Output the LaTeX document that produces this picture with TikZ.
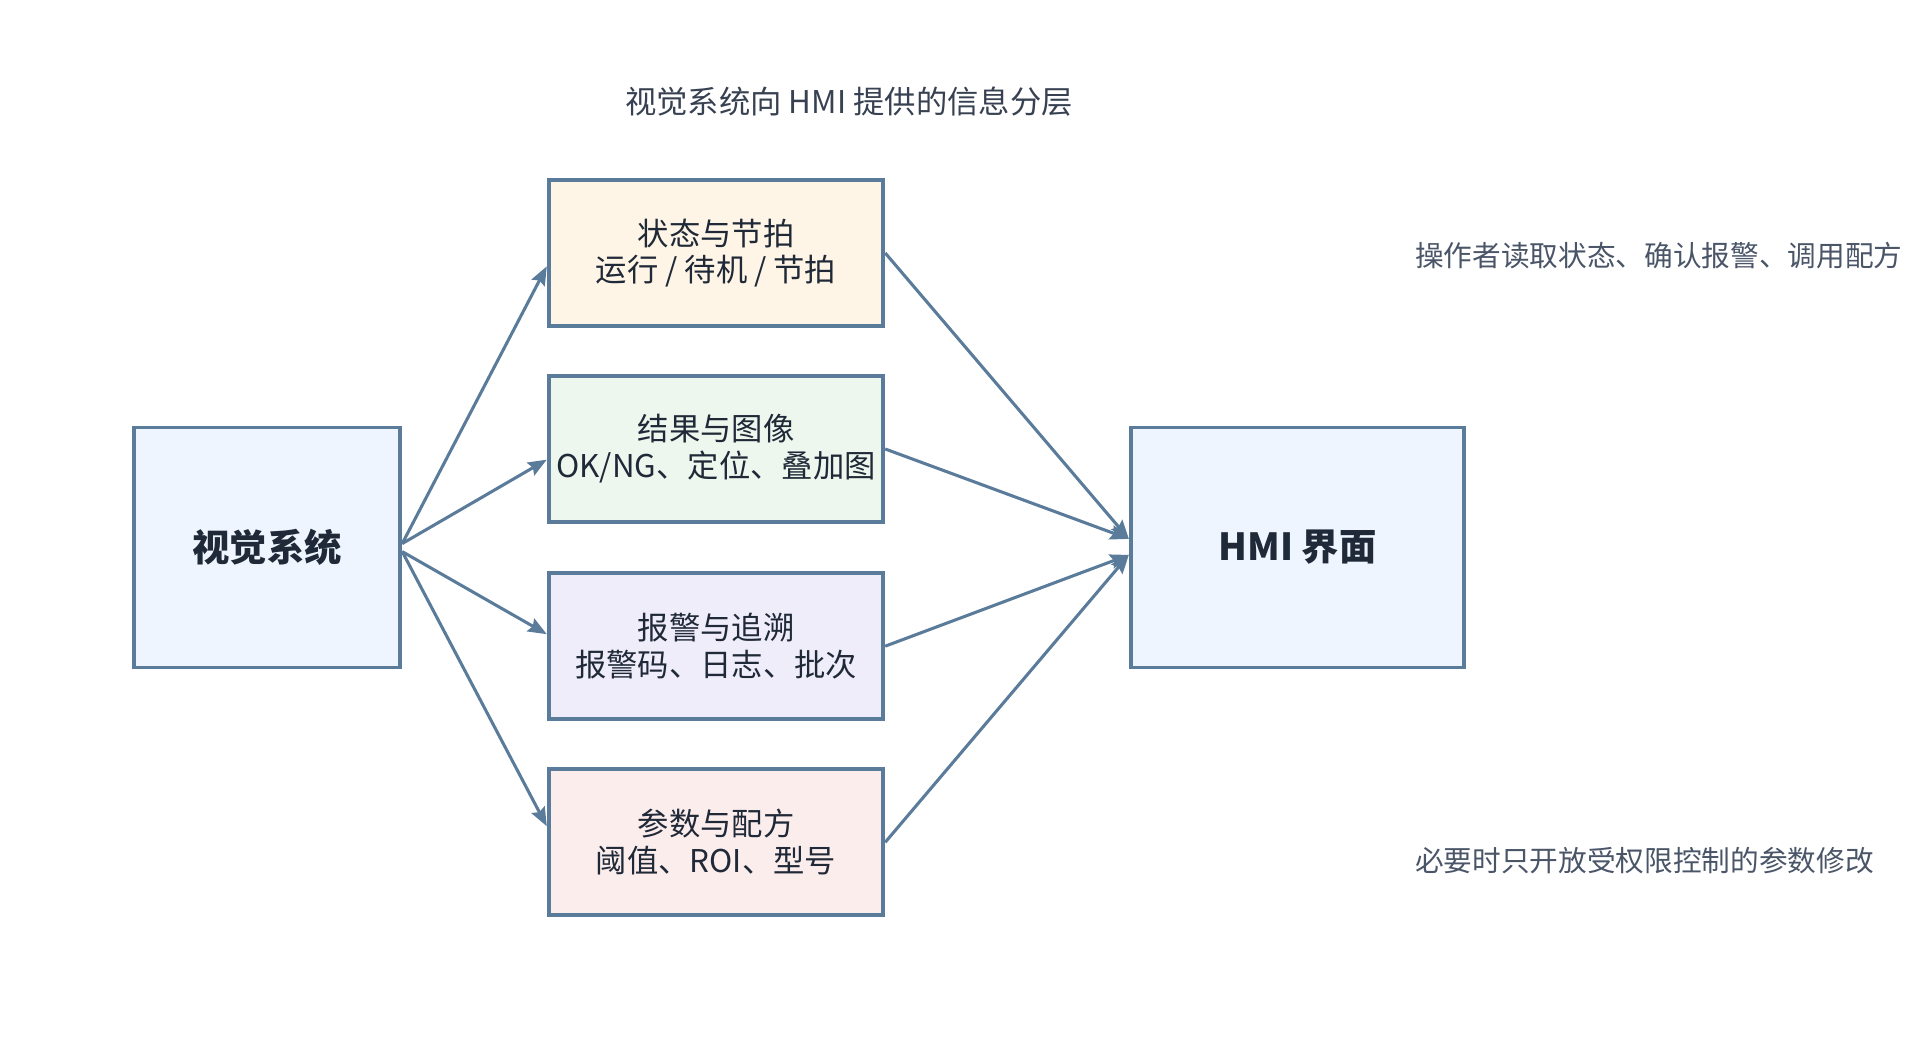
\documentclass[tikz,border=0pt]{standalone}
\usepackage{fontspec}
\setmainfont{Noto Sans CJK SC}
\usetikzlibrary{arrows.meta}
\definecolor{edgeblue}{RGB}{91,123,154}
\definecolor{textdark}{RGB}{31,41,55}
\definecolor{titlegray}{RGB}{55,65,81}
\definecolor{notegray}{RGB}{74,85,104}
\definecolor{sysblue}{RGB}{238,245,255}
\definecolor{stateorange}{RGB}{255,245,230}
\definecolor{resultgreen}{RGB}{237,247,238}
\definecolor{alarmviolet}{RGB}{240,237,251}
\definecolor{paramrose}{RGB}{252,237,237}
\tikzset{layerbox/.style={draw=edgeblue, line width=2.8pt, rectangle, inner sep=0pt, align=center, text=textdark,
           font=\fontsize{23.5}{27.6}\selectfont, minimum width=251pt, minimum height=109.4pt},
         endbox/.style={layerbox, fill=sysblue, minimum height=180pt, font=\fontsize{28}{33}\selectfont\bfseries},
         flow/.style={draw=edgeblue, line width=2.3pt, -{Stealth[length=14pt,width=11pt,inset=2pt]}},
         sidenote/.style={text=notegray, anchor=west, inner sep=0pt, font=\fontsize{21.5}{26}\selectfont}}

\begin{document}
\begin{tikzpicture}[x=0.75pt, y=0.75pt]
\useasboundingbox (0,0) rectangle (1921,1062);
\node [text=titlegray, font=\fontsize{23.5}{28}\selectfont] (title) at (849, 960) {视觉系统向 HMI 提供的信息分层};
\node [endbox, minimum width=200pt] (vis) at (267, 514.4) {视觉系统};
\node [layerbox, fill=stateorange] (state) at (716, 809) {状态与节拍\\运行 / 待机 / 节拍};
\node [layerbox, fill=resultgreen] (result) at (716, 613) {结果与图像\\OK/NG、定位、叠加图};
\node [layerbox, fill=alarmviolet] (alarm) at (716, 415.8) {报警与追溯\\报警码、日志、批次};
\node [layerbox, fill=paramrose] (param) at (716, 219.7) {参数与配方\\阈值、ROI、型号};
\node [endbox, minimum width=250pt] (hmi) at (1297.4, 514.4) {HMI 界面};
\node [sidenote] (readnote) at (1415, 806) {操作者读取状态、确认报警、调用配方};
\node [sidenote] (editnote) at (1415, 201) {必要时只开放受权限控制的参数修改};
\draw [flow] ([yshift=3pt]vis.east) -- ([yshift=-10pt]state.west);
\draw [flow] ([yshift=3pt]vis.east) -- ([yshift=-8pt]result.west);
\draw [flow] ([yshift=-3pt]vis.east) -- ([yshift=9pt]alarm.west);
\draw [flow] ([yshift=-3pt]vis.east) -- ([yshift=12pt]param.west);
\draw [flow] (state.east) -- ([yshift=6.5pt]hmi.west);
\draw [flow] (result.east) -- ([yshift=6.5pt]hmi.west);
\draw [flow] (alarm.east) -- ([yshift=-5.5pt]hmi.west);
\draw [flow] (param.east) -- ([yshift=-5.5pt]hmi.west);
\end{tikzpicture}
\end{document}
